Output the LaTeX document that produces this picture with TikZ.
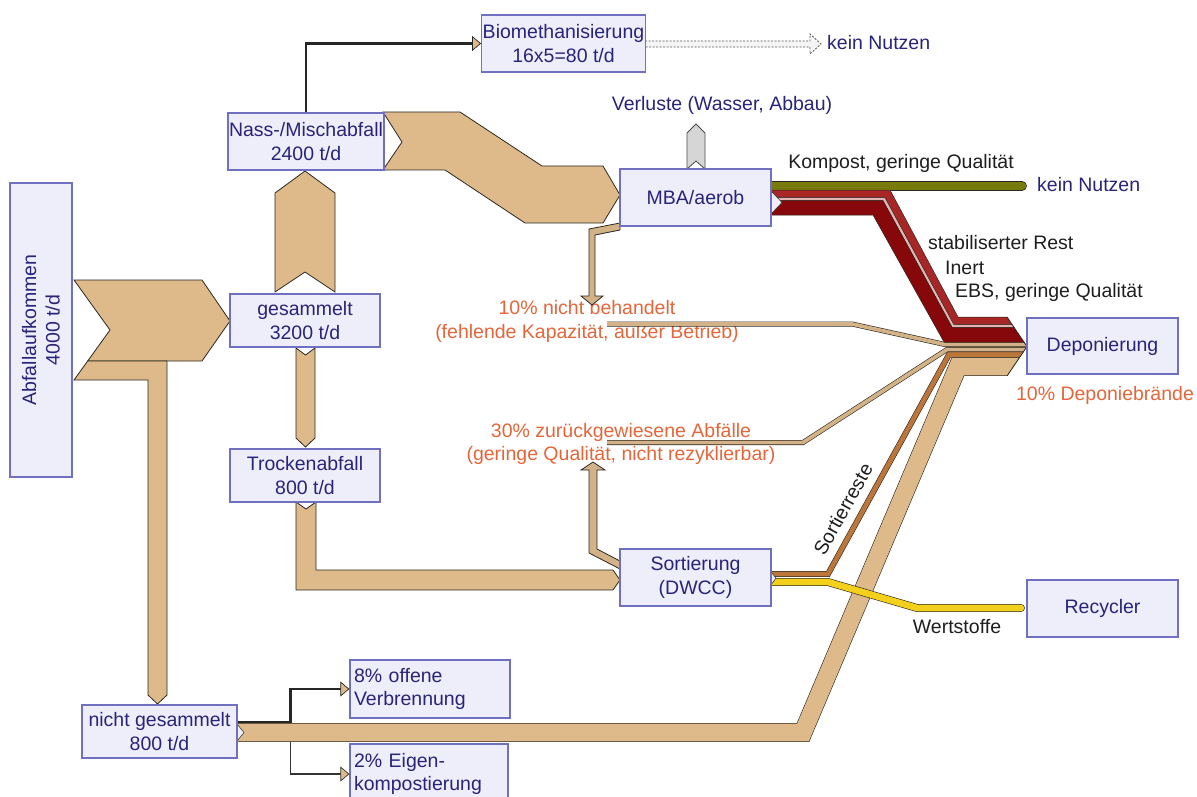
\documentclass[tikz,border=0pt]{standalone}
\usepackage{fontspec}
\setmainfont{Liberation Sans}
\usetikzlibrary{calc,arrows.meta}
\definecolor{boxfill}{RGB}{238,238,250}
\definecolor{boxline}{RGB}{112,112,192}
\definecolor{navy}{RGB}{40,36,120}
\definecolor{orng}{RGB}{228,102,58}
\definecolor{tanc}{RGB}{222,186,138}
\definecolor{tanthin}{RGB}{210,178,134}
\definecolor{edgec}{RGB}{45,40,35}
\definecolor{redmid}{RGB}{168,38,38}
\definecolor{reddark}{RGB}{135,8,10}
\definecolor{pinkc}{RGB}{232,178,176}
\definecolor{brownc}{RGB}{188,118,58}
\definecolor{yellowc}{RGB}{242,208,28}
\definecolor{olivec}{RGB}{120,122,12}
\definecolor{grayarr}{RGB}{214,214,214}
\definecolor{txt}{RGB}{30,30,30}
\newcommand\rstripe[3]{%
  \filldraw[fill=#3, draw=edgec, line width=0.5pt, line join=miter]
    ($(T0)!#1!(B0)$) -- ($(T1)!#1!(B1)$) -- ($(T2)!#1!(B2)$) -- ($(T3)!#1!(B3)$)
    -- ($(T3)!#2!(B3)$) -- ($(T2)!#2!(B2)$) -- ($(T1)!#2!(B1)$) -- ($(T0)!#2!(B0)$) -- cycle;}
\begin{document}
\begin{tikzpicture}[x=1pt,y=-1pt,
  every node/.style={font=\fontsize{19.5}{23.5}\selectfont},
  box/.style={draw=boxline, fill=boxfill, line width=1.3pt, text=navy, align=center, inner sep=1pt},
  flow/.style={fill=tanc, draw=edgec, line width=0.8pt, line join=miter},
  thinflow/.style={fill=tanthin, draw=edgec, line width=0.8pt, line join=miter},
  rib/.style={draw=edgec, line width=0.6pt, double=#1, line join=miter},
  conn/.style={draw=black!85, line width=2.6pt},
  conntwo/.style={draw=black!80, line width=1.6pt},
  tiptan/.style={-{Triangle[fill=tanc, line width=0.7pt, length=9pt, width=15pt]}},
  lbl/.style={text=txt},
  olbl/.style={text=orng, align=center}]
\useasboundingbox (0,0) rectangle (1197,797);
\clip (0,0) rectangle (1197,797);
\fill[white] (0,0) rectangle (1197,797);

% orange labels (behind flows)
\node[olbl] (nb) at (587,321.5) {10\% nicht behandelt\\(fehlende Kapazität, außer Betrieb)};
\node[olbl] (zw) at (621,444) {30\% zurückgewiesene Abfälle\\(geringe Qualität, nicht rezyklierbar)};

% big flows
\filldraw[flow] (74,280) -- (202,280) -- (230,321) -- (202,361) -- (87.7,361) -- (110,330) -- cycle;
\filldraw[flow] (87.7,361) -- (167,361) -- (167,695) -- (157.5,704) -- (148,695) -- (148,380) -- (74,380) -- cycle;
\filldraw[flow] (275,292) -- (275,193) -- (305,171) -- (335,193) -- (335,292) -- (305,272) -- cycle;
\filldraw[flow] (296,348) -- (305.5,355) -- (315,348) -- (315,438) -- (305.5,447) -- (296,438) -- cycle;
\filldraw[flow] (296,502) -- (306,509) -- (316,502) -- (316,570) -- (613,570) -- (620,580) -- (613,590) -- (296,590) -- cycle;
\filldraw[flow] (383,112) -- (460,112) -- (542,166) -- (603,166) -- (620,195) -- (603,223) -- (525,223) -- (445,170) -- (383,170) -- (402,142) -- cycle;

% small arrows to the orange labels
\filldraw[thinflow] (620,223) -- (589,229) -- (589,296) -- (581,296) -- (592,305) -- (603,296) -- (595,296) -- (595,235) -- (620,230) -- cycle;
\filldraw[thinflow] (589,553) -- (589,470) -- (581,470) -- (593,462) -- (605,470) -- (597,470) -- (597,549) -- (620,561) -- (620,569) -- cycle;

% Verluste
\filldraw[fill=grayarr, draw=gray!60!black, line width=0.8pt] (687,169) -- (687,133) -- (696,124) -- (705,133) -- (705,169) -- (696,161) -- cycle;

% dashed hollow arrow
\filldraw[fill=gray!8, draw=gray!70!black, line width=0.8pt, dash pattern=on 2pt off 1.5pt]
  (645,41) -- (810,41) -- (810,34) -- (821,44) -- (810,54) -- (810,47) -- (645,47);

% Kompost
\draw[rib=olivec, double distance=8.6pt, line cap=round] (771,186) -- (1022,186);

% merge into Deponierung
\coordinate (T0) at (771,190); \coordinate (T1) at (890,190); \coordinate (T2) at (958,317); \coordinate (T3) at (1035,317);
\coordinate (B0) at (771,215); \coordinate (B1) at (873,215); \coordinate (B2) at (944,342); \coordinate (B3) at (1035,342);
\begin{scope}
\clip (0,0) -- (1007,0) -- (1007,317) -- (1027,346.5) -- (1007,376) -- (1007,797) -- (0,797) -- cycle;
\draw[rib=tanc, double distance=17.6pt] (237,732.5) -- (803,732.5) -- (958,366.5) -- (1035,366.5);
\draw[rib=brownc, double distance=4.6pt] (771,574) -- (828,574) -- (949,354.5) -- (1035,354.5);
\draw[rib=tanthin, double distance=3.8pt] (607,442.5) -- (803,442.5) -- (947,349.5) -- (1035,349.5);
\draw[rib=tanthin, double distance=3.8pt] (607,324) -- (852,324) -- (945,344.5) -- (1035,344.5);
\rstripe{0}{0.3}{redmid}
\rstripe{0.3}{0.42}{pinkc}
\rstripe{0.42}{1}{reddark}
\end{scope}
\draw[edgec, line width=0.8pt] (1007,317) -- (1027,346.5) -- (1007,376);

% notches
\filldraw[fill=boxfill, draw=edgec, line width=0.5pt] (771,191) -- (782,202.5) -- (771,214);
\filldraw[fill=boxfill, draw=edgec, line width=0.5pt] (237,724) -- (244,732.5) -- (237,741);

% Wertstoffe
\draw[rib=yellowc, double distance=6.6pt, line cap=round] (771,582) -- (828,582) -- (917,608) -- (1021,608);
\filldraw[fill=boxfill, draw=edgec, line width=0.5pt] (771,572) -- (776,578) -- (771,585);

% boxes
\node[box, rotate=90, minimum width=294pt, minimum height=62pt] (abf) at (41,330) {Abfallaufkommen\\4000 t/d};
\node[box, minimum width=150pt, minimum height=53pt] (ges) at (305,320.5) {gesammelt\\3200 t/d};
\node[box, minimum width=152pt, minimum height=57pt] (nass) at (306,141.5) {Nass-/Mischabfall\\2400 t/d};
\node[box, minimum width=150pt, minimum height=53pt] (troc) at (305,475.5) {Trockenabfall\\800 t/d};
\node[box, minimum width=159pt, minimum height=57pt] (bio) at (563.5,43.5) {Biomethanisierung\\16x5=80 t/d};
\node[box, minimum width=151pt, minimum height=57pt] (mba) at (695.5,197.5) {MBA/aerob};
\node[box, minimum width=151pt, minimum height=56pt] (dep) at (1102.5,346) {Deponierung};
\node[box, minimum width=151pt, minimum height=57pt] (sort) at (695.5,577.5) {Sortierung\\(DWCC)};
\node[box, minimum width=151pt, minimum height=57pt] (rec) at (1102.5,608.5) {Recycler};
\node[box, minimum width=155pt, minimum height=53pt] (ng) at (159.5,731.5) {nicht gesammelt\\800 t/d};
\node[box, minimum width=160pt, minimum height=58pt, align=left, text width=152pt] (verb) at (430,689) {8\% offene\\Verbrennung};
\node[box, minimum width=158pt, minimum height=60pt, align=left, text width=150pt] (eigen) at (429,774) {2\% Eigen-\\kompostierung};

% connectors
\draw[conn, tiptan] (nass.north) |- (bio.west);
\draw[conn, tiptan] ([yshift=9.5pt]ng.east) -- ++(53,0) |- (verb.west);
\coordinate (lowstart) at ($(ng.east)+(53,10.5)$);
\draw[conntwo, tiptan] (lowstart) |- (eigen.west);

% labels
\node[text=navy] at (722,105) {Verluste (Wasser, Abbau)};
\node[text=navy, anchor=west, inner sep=0pt] at (827,43) {kein Nutzen};
\node[text=navy, anchor=west, inner sep=0pt] at (1037,185) {kein Nutzen};
\node[lbl] at (901,163) {Kompost, geringe Qualität};
\node[lbl, anchor=west, inner sep=0pt] at (928,243) {stabiliserter Rest};
\node[lbl, anchor=west, inner sep=0pt] at (945,268) {Inert};
\node[lbl, anchor=west, inner sep=0pt] at (955,292) {EBS, geringe Qualität};
\node[text=orng] at (1105,395) {10\% Deponiebrände};
\node[lbl, rotate=61, inner sep=0pt] at (843,509) {Sortierreste};
\node[lbl] at (957,627) {Wertstoffe};
\end{tikzpicture}
\end{document}
